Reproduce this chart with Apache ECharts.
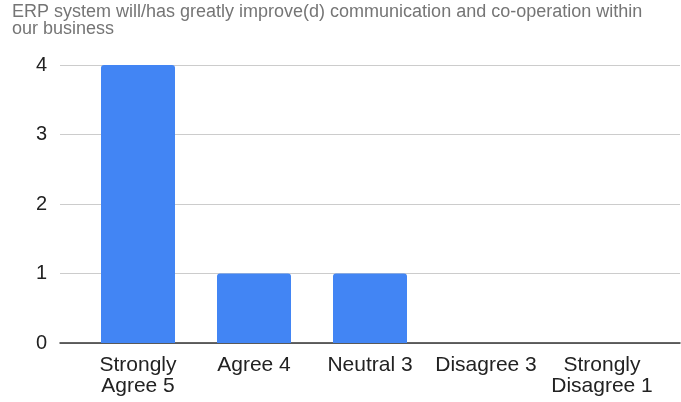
<!DOCTYPE html>
<html>
<head>
<meta charset="utf-8">
<script src="https://cdn.jsdelivr.net/npm/echarts@6/dist/echarts.min.js"></script>
<style>
  html, body { margin: 0; padding: 0; background: #fff; }
  #chart { width: 681px; height: 402px; }
</style>
</head>
<body>
<div id="chart"></div>
<script>
// Survey responses per answer option
const chartTitle = 'ERP system will/has greatly improve(d) communication and co-operation within\nour business';
const categories = ['Strongly\nAgree 5', 'Agree 4', 'Neutral 3', 'Disagree 3', 'Strongly\nDisagree 1'];
const counts = [4, 1, 1, 0, 0];
const yTicks = { min: 0, max: 4, step: 1 };

const font = '"Liberation Sans", Arial, Helvetica, sans-serif';
const chart = echarts.init(document.getElementById('chart'), null, { renderer: 'canvas' });

chart.setOption({
  animation: false,
  textStyle: { fontFamily: font },
  title: {
    text: chartTitle,
    left: 12,
    top: 4,
    padding: 0,
    textStyle: { fontFamily: font, fontSize: 18, fontWeight: 'normal', color: '#757575', lineHeight: 17 }
  },
  grid: [
    // background grid: gridlines, y labels, baseline
    { left: 60, right: 1, top: 65, bottom: 59 },
    // bar area
    { left: 80, right: 21, top: 65, bottom: 59 }
  ],
  xAxis: [
    {
      gridIndex: 0, type: 'category', data: [''],
      axisLine: { show: true, lineStyle: { color: '#333', width: 1.5 } },
      axisTick: { show: false }, axisLabel: { show: false }
    },
    {
      gridIndex: 1, type: 'category', data: categories,
      axisLine: { show: false }, axisTick: { show: false },
      axisLabel: { color: '#222', fontSize: 21, lineHeight: 21, margin: 12, interval: 0, fontFamily: font }
    }
  ],
  yAxis: [
    {
      gridIndex: 0, type: 'value', min: yTicks.min, max: yTicks.max, interval: yTicks.step,
      axisLine: { show: false }, axisTick: { show: false },
      axisLabel: { color: '#222', fontSize: 20, margin: 13, fontFamily: font },
      splitLine: { lineStyle: { color: '#ccc', width: 1 } }
    },
    {
      gridIndex: 1, type: 'value', min: yTicks.min, max: yTicks.max, interval: yTicks.step,
      show: false, splitLine: { show: false }
    }
  ],
  series: [{
    type: 'bar',
    xAxisIndex: 1, yAxisIndex: 1,
    data: counts,
    barWidth: 74,
    itemStyle: { color: '#4285f4', borderRadius: [3, 3, 0, 0] }
  }]
});
</script>
</body>
</html>
